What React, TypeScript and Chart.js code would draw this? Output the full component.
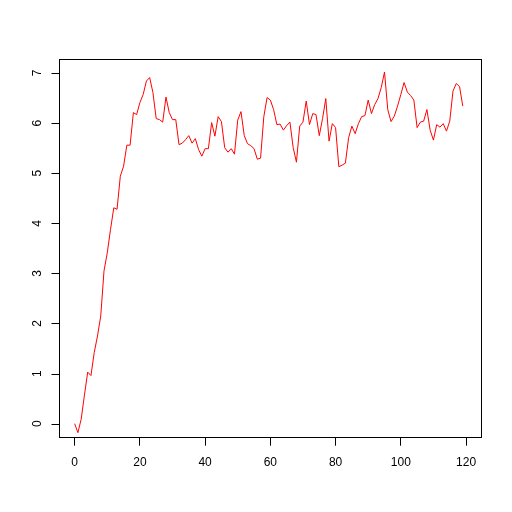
import React, { useEffect, useRef } from "react";
import { Chart, registerables } from "chart.js";

Chart.register(...registerables);

// Observed series (index 0..119)
const seriesValues: number[] = [
  0.0, -0.18, 0.09, 0.57, 1.03, 0.96, 1.42, 1.75, 2.15, 3.05,
  3.41, 3.88, 4.31, 4.28, 4.94, 5.14, 5.56, 5.56, 6.21, 6.17,
  6.41, 6.57, 6.84, 6.91, 6.61, 6.09, 6.07, 6.02, 6.52, 6.21,
  6.07, 6.07, 5.57, 5.6, 5.67, 5.75, 5.6, 5.69, 5.47, 5.34,
  5.49, 5.49, 6.01, 5.74, 6.13, 6.03, 5.51, 5.42, 5.49, 5.38,
  6.06, 6.23, 5.75, 5.59, 5.55, 5.49, 5.28, 5.3, 6.13, 6.51,
  6.46, 6.27, 5.97, 5.98, 5.86, 5.95, 6.02, 5.51, 5.22, 5.94,
  6.02, 6.44, 5.97, 6.19, 6.17, 5.75, 6.09, 6.49, 5.64, 5.99,
  5.91, 5.13, 5.16, 5.2, 5.71, 5.94, 5.79, 5.99, 6.13, 6.15,
  6.46, 6.19, 6.37, 6.49, 6.71, 7.02, 6.27, 6.03, 6.14, 6.34,
  6.57, 6.81, 6.62, 6.55, 6.46, 5.91, 6.02, 6.04, 6.27, 5.86,
  5.66, 5.97, 5.92, 5.99, 5.84, 6.04, 6.64, 6.79, 6.73, 6.34,
];

const xTickValues: number[] = [0, 20, 40, 60, 80, 100, 120];
const yTickValues: number[] = [0, 1, 2, 3, 4, 5, 6, 7];
const lineColor = "#FF0000";
const FONT = "'Liberation Sans', Arial, Helvetica, sans-serif";

const framePlugin = {
  id: "rframe",
  afterDraw(chart: any) {
    const { ctx, chartArea: a, scales } = chart;
    const xs = scales.x;
    const ys = scales.y;
    ctx.save();
    ctx.lineWidth = 1;
    ctx.strokeStyle = "#000";
    const L = Math.round(a.left) + 0.5;
    const T = Math.round(a.top) + 0.5;
    const R = Math.round(a.right) - 0.5;
    const B = Math.floor(a.bottom) + 0.5;
    ctx.strokeRect(L, T, R - L, B - T);
    // x axis line over tick range
    ctx.beginPath();
    ctx.moveTo(xs.getPixelForValue(xTickValues[0]), B);
    ctx.lineTo(xs.getPixelForValue(xTickValues[xTickValues.length - 1]), B);
    ctx.stroke();
    // y axis line, ticks, labels
    ctx.beginPath();
    ctx.moveTo(L, ys.getPixelForValue(yTickValues[0]));
    ctx.lineTo(L, ys.getPixelForValue(yTickValues[yTickValues.length - 1]));
    ctx.stroke();
    ctx.font = `12px ${FONT}`;
    ctx.fillStyle = "#000";
    ctx.textAlign = "center";
    ctx.textBaseline = "alphabetic";
    yTickValues.forEach((v) => {
      const py = Math.round(ys.getPixelForValue(v)) + 0.5;
      ctx.beginPath();
      ctx.moveTo(L, py);
      ctx.lineTo(L - 8, py);
      ctx.stroke();
      ctx.save();
      ctx.translate(40.5, ys.getPixelForValue(v));
      ctx.rotate(-Math.PI / 2);
      ctx.fillText(String(v), 0, 0);
      ctx.restore();
    });
    ctx.restore();
  },
};

export default function App() {
  const canvasRef = useRef<HTMLCanvasElement | null>(null);

  useEffect(() => {
    if (!canvasRef.current) return;
    const points = seriesValues.map((v, i) => ({ x: i, y: v }));
    const chart = new Chart(canvasRef.current, {
      type: "line",
      data: {
        datasets: [
          {
            data: points,
            borderColor: lineColor,
            borderWidth: 1,
            pointRadius: 0,
            tension: 0,
            fill: false,
          },
        ],
      },
      options: {
        responsive: false,
        animation: false,
        events: [],
        layout: { padding: { top: 59, right: 30.3, left: 0, bottom: 0 } },
        plugins: {
          legend: { display: false },
          tooltip: { enabled: false },
          title: { display: false },
        },
        scales: {
          x: {
            type: "linear",
            min: -4.8,
            max: 124.8,
            afterBuildTicks: (scale: any) => {
              scale.ticks = xTickValues.map((v) => ({ value: v }));
            },
            afterFit: (scale: any) => {
              scale.height = 74.3;
            },
            border: { display: false },
            grid: {
              drawOnChartArea: false,
              drawTicks: true,
              tickLength: 8,
              color: "#000",
              lineWidth: 1,
            },
            ticks: {
              autoSkip: false,
              maxRotation: 0,
              minRotation: 0,
              padding: 10,
              color: "#000",
              font: { family: FONT, size: 12 },
            },
          },
          y: {
            type: "linear",
            min: -0.28,
            max: 7.28,
            afterBuildTicks: (scale: any) => {
              scale.ticks = yTickValues.map((v) => ({ value: v }));
            },
            afterFit: (scale: any) => {
              scale.width = 59;
            },
            border: { display: false },
            grid: { display: false, drawTicks: false },
            ticks: { display: false },
          },
        },
      },
      plugins: [framePlugin],
    });
    return () => chart.destroy();
  }, []);

  return (
    <div style={{ position: "fixed", left: 0, top: 0, width: 512, height: 512, background: "#fff" }}>
      <canvas ref={canvasRef} width={512} height={512} style={{ display: "block" }} />
    </div>
  );
}
